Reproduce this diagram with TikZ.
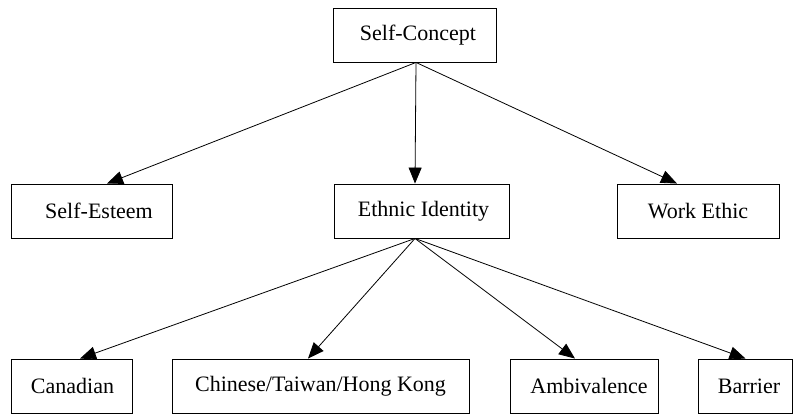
\documentclass[tikz,border=0pt]{standalone}
\usepackage{fontspec}
\setmainfont{Liberation Serif}
\usetikzlibrary{arrows.meta}
\begin{document}
\begin{tikzpicture}[x=1pt,y=-1pt,
  box/.style={draw=black, line width=0.9pt, rectangle, inner sep=0pt, minimum height=54pt, font=\fontsize{22}{26}\selectfont},
  link/.style={line width=0.8pt, -{Triangle[length=16pt,width=13pt]}}]
\useasboundingbox (0,0) rectangle (794,415);
\node[box, minimum width=163pt] (sc) at (414.5,35) {\hspace{7pt}Self-Concept};
\node[box, minimum width=161pt] (se) at (91.5,211) {\hspace{15pt}Self-Esteem};
\node[box, minimum width=175pt] (ei) at (421.5,211) {\hspace{4pt}Ethnic Identity};
\node[box, minimum width=162pt] (we) at (698,211) {Work Ethic};
\node[box, minimum width=121pt] (ca) at (71.5,386) {\hspace{2pt}Canadian};
\node[box, minimum width=297pt] (ch) at (320.5,386) {Chinese/Taiwan/Hong Kong};
\node[box, minimum width=148pt] (am) at (584,386) {\hspace{10pt}Ambivalence};
\node[box, minimum width=94pt] (ba) at (745.5,386) {\hspace{7pt}Barrier};
\draw[link] ([xshift=1.5pt]sc.south) -- ([xshift=15.5pt]se.north);
\draw[link] ([xshift=1.5pt]sc.south) -- ([xshift=-6.5pt]ei.north);
\draw[link] ([xshift=1.5pt]sc.south) -- ([xshift=-21pt]we.north);
\draw[link] ([xshift=-6.5pt]ei.south) -- ([xshift=8.5pt]ca.north);
\draw[link] ([xshift=-6.5pt]ei.south) -- ([xshift=-12.5pt]ch.north);
\draw[link] ([xshift=-6.5pt]ei.south) -- ([xshift=-9pt]am.north);
\draw[link] ([xshift=-6.5pt]ei.south) -- (ba.north);
\end{tikzpicture}
\end{document}
